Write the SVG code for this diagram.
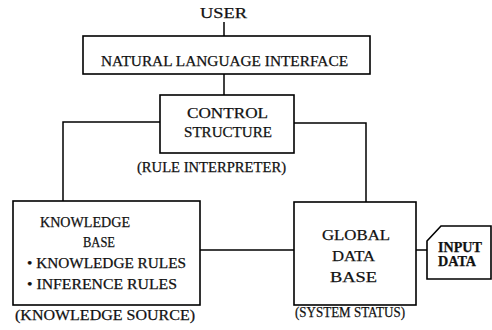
<svg xmlns="http://www.w3.org/2000/svg" width="492" height="330" viewBox="0 0 492 330">
  <style>
    .box { fill: #ffffff; stroke: #000000; stroke-width: 1.6; }
    .wire { fill: none; stroke: #000000; stroke-width: 1.5; }
    .lbl { font-family: 'Liberation Serif', 'Times New Roman', serif !important; font-size: 15px; fill: #111111; stroke: #111111; stroke-width: 0.25; }
    .kb { font-size: 14px; }
    .input { font-size: 14px; font-weight: bold; }
  </style>
  <rect width="492" height="330" fill="#ffffff"/>

  <!-- connectors -->
  <g id="connectors">
    <line class="wire" x1="224" y1="22" x2="224" y2="36"/>
    <line class="wire" x1="224" y1="74" x2="224" y2="95"/>
    <polyline class="wire" points="160,122 63,122 63,201"/>
    <polyline class="wire" points="294,123 366,123 366,202"/>
    <line class="wire" x1="200" y1="250" x2="294" y2="250"/>
    <line class="wire" x1="416" y1="250" x2="427" y2="250"/>
  </g>

  <g id="user">
    <text class="lbl" font-family="Liberation Serif" x="200" y="18" textLength="47" lengthAdjust="spacingAndGlyphs">USER</text>
  </g>

  <g id="natural-language-interface">
    <rect class="box" x="83" y="36" width="287" height="38"/>
    <text class="lbl" font-family="Liberation Serif" x="101" y="66" textLength="247" lengthAdjust="spacingAndGlyphs">NATURAL LANGUAGE INTERFACE</text>
  </g>

  <g id="control-structure">
    <rect class="box" x="160" y="95" width="134" height="58"/>
    <text class="lbl" font-family="Liberation Serif" x="187" y="118" textLength="81" lengthAdjust="spacingAndGlyphs">CONTROL</text>
    <text class="lbl" font-family="Liberation Serif" x="184" y="137" textLength="88" lengthAdjust="spacingAndGlyphs">STRUCTURE</text>
    <text class="lbl" font-family="Liberation Serif" x="137" y="172" textLength="149" lengthAdjust="spacingAndGlyphs">(RULE INTERPRETER)</text>
  </g>

  <g id="knowledge-base">
    <rect class="box" x="13" y="201" width="187" height="104"/>
    <text class="lbl kb" font-family="Liberation Serif" x="40" y="227" textLength="90" lengthAdjust="spacingAndGlyphs">KNOWLEDGE</text>
    <text class="lbl kb" font-family="Liberation Serif" x="83" y="247" textLength="32" lengthAdjust="spacingAndGlyphs">BASE</text>
    <text class="lbl kb" font-family="Liberation Serif" x="27" y="268" textLength="159" lengthAdjust="spacingAndGlyphs">• KNOWLEDGE RULES</text>
    <text class="lbl kb" font-family="Liberation Serif" x="27" y="289" textLength="150" lengthAdjust="spacingAndGlyphs">• INFERENCE RULES</text>
    <text class="lbl" font-family="Liberation Serif" x="15" y="320" textLength="180" lengthAdjust="spacingAndGlyphs">(KNOWLEDGE SOURCE)</text>
  </g>

  <g id="global-data-base">
    <rect class="box" x="294" y="202" width="122" height="103"/>
    <text class="lbl" font-family="Liberation Serif" x="322" y="240" textLength="68" lengthAdjust="spacingAndGlyphs">GLOBAL</text>
    <text class="lbl" font-family="Liberation Serif" x="332" y="261" textLength="43" lengthAdjust="spacingAndGlyphs">DATA</text>
    <text class="lbl" font-family="Liberation Serif" x="330" y="282" textLength="47" lengthAdjust="spacingAndGlyphs">BASE</text>
    <text class="lbl" font-family="Liberation Serif" x="295" y="317" textLength="110" lengthAdjust="spacingAndGlyphs">(SYSTEM STATUS)</text>
  </g>

  <g id="input-data">
    <path class="box" d="M427,241 L441,226 L491,226 L491,279 L427,279 Z"/>
    <text class="lbl input" font-family="Liberation Serif" x="438" y="252" textLength="44" lengthAdjust="spacingAndGlyphs">INPUT</text>
    <text class="lbl input" font-family="Liberation Serif" x="438" y="266" textLength="38" lengthAdjust="spacingAndGlyphs">DATA</text>
  </g>
</svg>
